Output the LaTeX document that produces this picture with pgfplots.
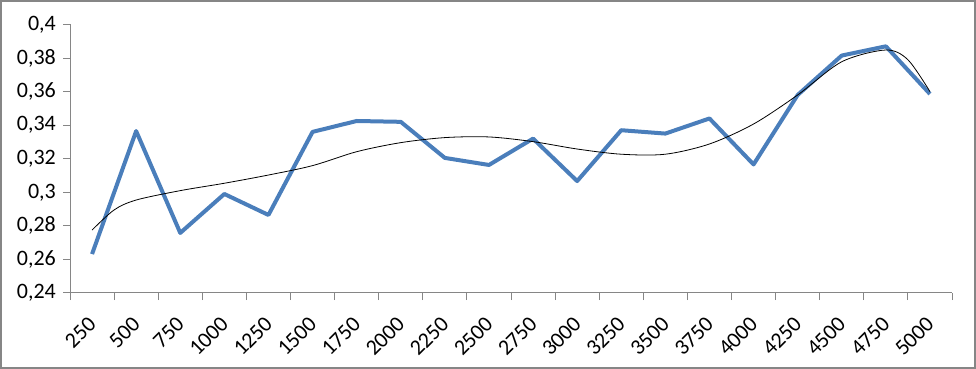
\documentclass[border=0pt]{standalone}
\usepackage{pgfplots}
\pgfplotsset{compat=1.18}
\usepackage{fontspec}
\setmainfont{Carlito}
\definecolor{axgray}{HTML}{868686}
\definecolor{serblue}{HTML}{4A7EBB}
\begin{document}
\begin{tikzpicture}[x=1pt,y=1pt]
\draw[draw=axgray, line width=2pt] (1,1) rectangle (975,368);
\begin{axis}[
  at={(70pt,76pt)}, anchor=south west,
  scale only axis, width=882pt, height=268.5pt,
  xmin=-0.5, xmax=19.5, ymin=0.24, ymax=0.4,
  axis lines*=left,
  axis line style={draw=axgray, line width=1pt},
  xtick={0,...,19},
  xticklabels={250,500,750,1000,1250,1500,1750,2000,2250,2500,2750,3000,3250,3500,3750,4000,4250,4500,4750,5000},
  minor xtick={-0.5,0.5,...,19.5},
  major x tick style={draw=none},
  minor x tick style={draw=axgray, line width=1pt},
  tick align=outside,
  minor tick length=7pt,
  ytick={0.24,0.26,...,0.41},
  y tick style={draw=axgray, line width=1pt},
  major tick length=7pt,
  y tick label style={/pgf/number format/fixed, /pgf/number format/use comma, /pgf/number format/precision=2},
  /pgf/number format/assume math mode=true,
  ticklabel style={font=\fontsize{22}{23}\selectfont, text=black},
  xticklabel style={xshift=-5pt, yshift=-15pt, rotate=45, anchor=north east, inner sep=0pt},
  yticklabel style={inner sep=2pt, xshift=-5pt},
  clip=false,
]
\addplot[serblue, line width=4pt, line join=round] coordinates {
(0,0.2632) (1,0.3365) (2,0.2758) (3,0.2990) (4,0.2865) (5,0.3360) (6,0.3425) (7,0.3420)
(8,0.3205) (9,0.3163) (10,0.3320) (11,0.3067) (12,0.3370) (13,0.3350) (14,0.3440)
(15,0.3166) (16,0.3580) (17,0.3815) (18,0.3870) (19,0.3586)};
\addplot[black, line width=0.8pt, smooth] coordinates {
(0,0.2775) (0.5,0.2895) (1,0.2954) (2,0.3010) (3,0.3054) (4,0.3103) (5,0.3159) (6,0.3242)
(7,0.3296) (8,0.3326) (9,0.3330) (10,0.3302) (11,0.3258) (12,0.3227) (13,0.3227)
(14,0.3288) (15,0.3407) (16,0.3580) (17,0.3778) (18,0.3848) (18.5,0.3790) (19,0.3600)};
\end{axis}
\end{tikzpicture}
\end{document}
